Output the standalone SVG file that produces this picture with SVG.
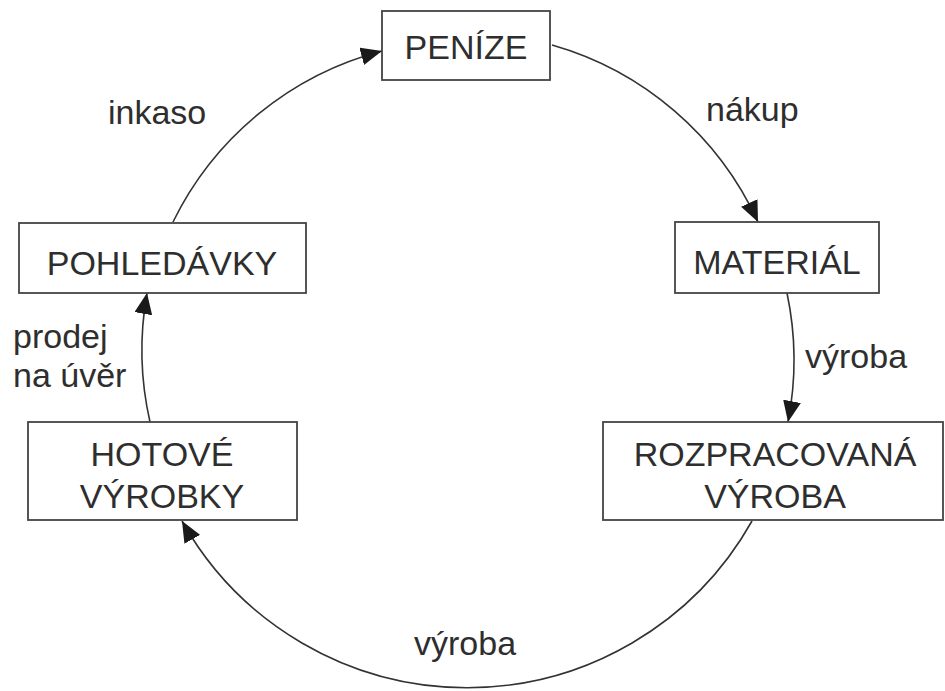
<svg xmlns="http://www.w3.org/2000/svg" width="945" height="691" viewBox="0 0 945 691">
<style>
.box{fill:#fff;stroke:#444;stroke-width:1.8}
.t{font-family:"Liberation Sans",Arial,sans-serif;font-size:34px;fill:#2e2e2e}
.c{text-anchor:middle}
.con{fill:none;stroke:#333;stroke-width:1.6;marker-end:url(#ah)}
</style>
<defs>
<marker id="ah" markerUnits="userSpaceOnUse" viewBox="0 0 22 18" markerWidth="22" markerHeight="18" refX="21" refY="9" orient="auto">
<path d="M0,0 L21,9 L0,18 z" fill="#1a1a1a"/>
</marker>
</defs>
<rect width="945" height="691" fill="#fff"/>
<g id="connectors">
<path class="con" d="M173,222 A324,324 0 0 1 382,51"/>
<path class="con" d="M552,45 A324,324 0 0 1 758,222"/>
<path class="con" d="M787,293 A324,324 0 0 1 788,422"/>
<path class="con" d="M752,521 A327,327 0 0 1 182,521"/>
<path class="con" d="M150,422 A324,324 0 0 1 147,293"/>
</g>
<g id="penize"><rect class="box" x="382" y="11" width="168" height="69"/><text class="t c" x="466" y="59">PENÍZE</text></g>
<g id="material"><rect class="box" x="675" y="222" width="204" height="71"/><text class="t c" x="777" y="274">MATERIÁL</text></g>
<g id="rozpracovana"><rect class="box" x="603" y="422" width="340" height="98"/><text class="t c" x="775" y="466">ROZPRACOVANÁ</text><text class="t c" x="775" y="508">VÝROBA</text></g>
<g id="hotove"><rect class="box" x="28" y="422" width="269" height="98"/><text class="t c" x="162" y="466">HOTOVÉ</text><text class="t c" x="162" y="508">VÝROBKY</text></g>
<g id="pohledavky"><rect class="box" x="19" y="223" width="287" height="70"/><text class="t c" x="162" y="275">POHLEDÁVKY</text></g>
<g id="labels">
<text class="t" x="108" y="124">inkaso</text>
<text class="t" x="706" y="121">nákup</text>
<text class="t" x="805" y="368">výroba</text>
<text class="t" x="13" y="348">prodej</text>
<text class="t" x="13" y="387">na úvěr</text>
<text class="t" x="414" y="655">výroba</text>
</g>
</svg>
